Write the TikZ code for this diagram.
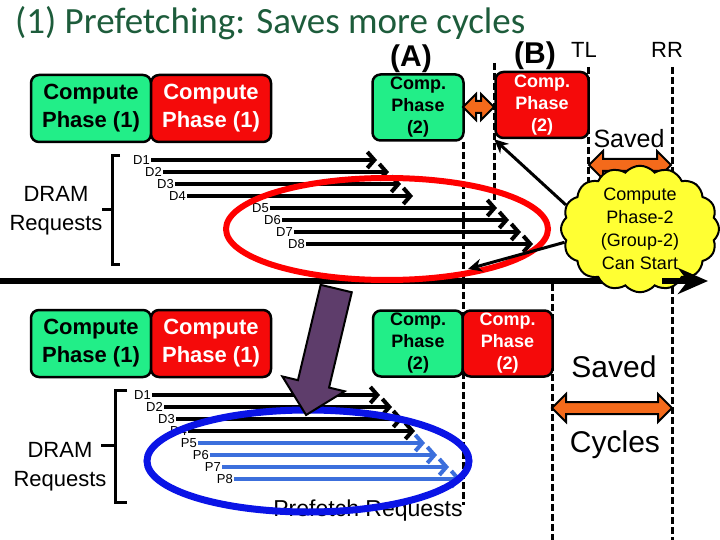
\documentclass[tikz,border=0pt]{standalone}
\usepackage{fontspec}
\setmainfont{Liberation Sans}
\newfontfamily\titlefont{Carlito}
\usetikzlibrary{arrows.meta,shapes.symbols,shapes.arrows}
\definecolor{phgreen}{HTML}{22EE88}
\definecolor{phred}{HTML}{F50A0A}
\definecolor{saveorange}{HTML}{F46A1B}
\definecolor{titlegreen}{HTML}{1D5C3B}
\definecolor{pushpurple}{HTML}{5E3D6B}
\definecolor{pfblue}{HTML}{0A14E6}
\definecolor{pfline}{HTML}{3C6FDC}
\definecolor{cloudyellow}{HTML}{FFFF33}

\begin{document}
\begin{tikzpicture}[x=1pt, y=-1pt,
  phase/.style={draw=black, line width=2.5pt, rounded corners=8pt, fill=#1, minimum width=120pt, minimum height=67pt, inner sep=0pt, align=center, font=\bfseries\fontsize{22}{28}\selectfont},
  comp/.style={draw=black, line width=2.5pt, rounded corners=8pt, fill=#1, minimum width=90pt, minimum height=66pt, inner sep=0pt, align=center, font=\bfseries\fontsize{18}{22}\selectfont},
  dram/.style={align=center, font=\fontsize{22}{29}\selectfont},
  dlbl/.style={anchor=east, inner sep=1pt, font=\fontsize{13}{13}\selectfont},
  req/.style={line width=4pt, -{Straight Barb[length=7pt,width=16pt]}},
  preq/.style={req, draw=pfline},
  rline/.style={line width=3pt, dash pattern=on 7pt off 3pt},
  bracket/.style={line width=3pt},
  saving/.style={double arrow, draw=black, line width=2pt, fill=saveorange, inner xsep=0pt, inner ysep=5pt, double arrow head extend=8pt, minimum width=0pt},
  pointer/.style={line width=3pt, -{Stealth[length=14pt,width=13pt]}},
  push/.style={single arrow, draw=black, line width=2pt, fill=pushpurple, single arrow head extend=16pt, minimum width=0pt, minimum height=130pt, inner xsep=0pt, inner ysep=15pt},
  scheme/.style={inner sep=0pt, font=\bfseries\fontsize{30}{30}\selectfont},
  tag/.style={font=\fontsize{22}{22}\selectfont}
]
  \useasboundingbox (0,0) rectangle (720,540);
  % Title
  \node[anchor=base west, inner sep=0pt, font=\titlefont\fontsize{37}{37}\selectfont, text=titlegreen] (title) at (15,34) {(1) Prefetching: Saves more cycles};

  % Time lines
  \draw[rline] (463,142) -- (463,505);
  \draw[rline] (494,63) -- (494,203);
  \draw[rline] (588,67) -- (588,200);
  \draw[rline] (672,67) -- (672,540);
  \draw[rline] (552,284) -- (552,540);

  % DRAM requests (top)
  \foreach \i/\x/\y/\e in {1/151/160/377, 2/163/172/389, 3/175/184/401, 4/187/196/413, 5/270/208/497, 6/282/220/509, 7/294/232/521, 8/306/244/533} {
    \node[dlbl] (td\i) at (\x,\y) {D\i};
    \coordinate (tdend\i) at (\e,\y);
    \draw[req] (td\i.east) -- (tdend\i);
  }
  % DRAM and prefetch requests (bottom)
  \foreach \i/\x/\y/\e in {1/152/395/380, 2/164/407/392, 3/176/419/403, 4/188/431/415} {
    \node[dlbl] (bd\i) at (\x,\y) {D\i};
    \coordinate (bdend\i) at (\e,\y);
    \draw[req] (bd\i.east) -- (bdend\i);
  }
  \foreach \i/\x/\y/\e in {5/198/443/425, 6/210/455/437, 7/222/467/449, 8/234/479/461} {
    \node[dlbl] (bp\i) at (\x,\y) {P\i};
    \coordinate (bpend\i) at (\e,\y);
    \draw[preq] (bp\i.east) -- (bpend\i);
  }

  % Brackets
  \draw[bracket] (120,156) -- (112,156) -- (112,264) -- (120,264);
  \draw[bracket] (112,210) -- (102,210);
  \draw[bracket] (127,390) -- (115,390) -- (115,502) -- (127,502);
  \draw[bracket] (115,445) -- (101,445);
  \node[dram] (tdram) at (56,211) {DRAM\\Requests};
  \node[dram] (bdram) at (60,467) {DRAM\\Requests};

  % Compute phases
  \node[phase=phgreen] (tc1g) at (91,108.5) {Compute\\Phase (1)};
  \node[phase=phred, text=white] (tc1r) at (211,108.5) {Compute\\Phase (1)};
  \node[phase=phgreen] (bc1g) at (91,343.5) {Compute\\Phase (1)};
  \node[phase=phred, text=white] (bc1r) at (211,343.5) {Compute\\Phase (1)};
  \node[comp=phgreen, minimum width=91pt] (ta) at (418,107.5) {Comp.\\Phase\\(2)};
  \node[comp=phred, text=white, minimum width=93pt] (tb) at (542,105) {Comp.\\Phase\\(2)};
  \node[comp=phgreen] (ba) at (418,343.5) {Comp.\\Phase\\(2)};
  \node[comp=phred, text=white] (bb) at (507.5,343.5) {Comp.\\Phase\\(2)};

  % Labels
  \node[scheme] (lA) at (411,59) {(A)};
  \node[scheme] (lB) at (535,56) {(B)};
  \node[tag] (lTL) at (584,50) {TL};
  \node[tag] (lRR) at (667,50) {RR};
  \node[font=\fontsize{25}{25}\selectfont] (tsaved) at (629,139) {Saved};
  \node[font=\fontsize{30}{30}\selectfont] (bsaved) at (614,367) {Saved};
  \node[font=\fontsize{30}{30}\selectfont] (bcycles) at (615,445) {Cycles};

  % Saved cycles
  \node[saving, minimum height=31pt, double arrow head extend=7pt] (abgap) at (478.5,107) {};
  \node[saving, minimum height=82pt] (tsave) at (630,165) {};
  \node[saving, minimum height=120pt] (bsave) at (612,408) {};

  \node[font=\fontsize{23}{23}\selectfont] (pflabel) at (368,511) {Prefetch Requests};

  % Time axis
  \coordinate (axL) at (0,281);
  \coordinate (axM) at (672,281);
  \coordinate (axR) at (708,281);
  \draw[line width=6pt] (axL) -- (axM);

  % Request groups
  \draw[draw=red, line width=6pt] (387,229) ellipse [x radius=161pt, y radius=51pt];
  \draw[draw=pfblue, line width=7pt] (308,461) ellipse [x radius=161pt, y radius=51pt];

  % Callout
  \node[cloud, cloud puffs=16, cloud puff arc=100, aspect=1.25, draw=black, line width=2pt, fill=cloudyellow, inner sep=0pt, minimum width=158pt, minimum height=124pt, align=center, font=\fontsize{18}{23}\selectfont] (cld) at (640,229) {Compute\\Phase-2\\(Group-2)\\Can Start};
  \draw[line width=6pt, -{Stealth[length=30pt,width=26pt]}] ([xshift=-10pt]axM) -- (axR);
  \coordinate (gtip) at (468,269);
  \draw[pointer] (cld.162) -- (tb.south west);
  \draw[pointer] (cld.190) -- (gtip);

  % Prefetch push
  \node[push, rotate=-103.4] (pushdown) at (323,344) {};
\end{tikzpicture}
\end{document}
